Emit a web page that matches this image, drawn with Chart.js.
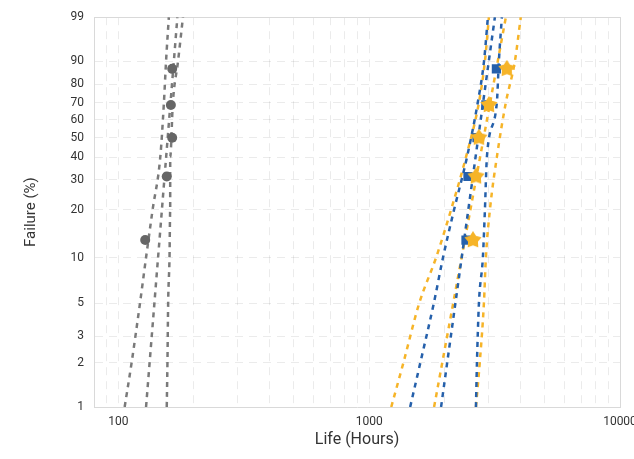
<!DOCTYPE html>
<html><head><meta charset="utf-8">
<script src="https://cdn.jsdelivr.net/npm/chart.js@4.4.1/dist/chart.umd.min.js"></script>
<style>html,body{margin:0;padding:0;background:#fff}#wrap{width:634px;height:459px;position:relative}</style>
</head><body><div id="wrap"><canvas id="c"></canvas></div>
<script>
// ---- data ----
const yTickPct = [1, 2, 3, 5, 10, 20, 30, 40, 50, 60, 70, 80, 90, 99];
const xTickLabels = [100, 1000, 10000];
const xGridValues = [80, 90, 100, 200, 300, 400, 500, 600, 700, 800, 900, 1000, 2000, 3000, 4000, 5000, 6000, 7000, 8000, 9000, 10000];

const rankPct = [12.94, 31.38, 50, 68.62, 87.06];
const grayLife = [128, 156, 164, 162, 164];
const blueLife = [2432, 2477, 2690, 2920, 3215];
const orangeLife = [2593, 2665, 2739, 3002, 3539];

const fitPct = [1, 99];
const grayFit = [129, 172];
const blueFit = [1935, 3171];
const orangeFit = [1815, 3507];

const bandPct = [1, 2, 5, 10, 20, 40, 70, 90, 99];
const grayLower = [106, 113, 122, 129, 137, 147, 152, 155, 159];
const grayUpper = [156, 157, 158, 160, 161, 161, 165, 173, 181];
const blueLower = [1457, 1600, 1810, 1970, 2180, 2455, 2710, 2870, 2974];
const blueUpper = [2665, 2690, 2739, 2840, 2894, 2947, 3229, 3289, 3381];
const orangeLower = [1225, 1370, 1583, 1849, 2121, 2432, 2739, 2894, 3002];
const orangeUpper = [2665, 2760, 2867, 2920, 3030, 3229, 3507, 3810, 4022];

// ---- helpers ----
const weib = p => Math.log(-Math.log(1 - p / 100));
const pts = (xs, ps) => xs.map((x, i) => ({x: x, y: weib(ps[i])}));

const GRAY = '#7a7a7a', GRAYPT = '#666666', BLUE = '#2560ab', ORANGE = '#f6b428';

function makeStar(size, color) {
  const c = document.createElement('canvas');
  c.width = size; c.height = size;
  const g = c.getContext('2d');
  g.fillStyle = color; g.beginPath();
  const cx = size / 2, cy = size / 2, R = size / 2, r = R * 0.58;
  for (let i = 0; i < 10; i++) {
    const a = -Math.PI / 2 + i * Math.PI / 5, rad = i % 2 ? r : R;
    g.lineTo(cx + rad * Math.cos(a), cy + rad * Math.sin(a));
  }
  g.closePath(); g.fill();
  return c;
}
const starImg = makeStar(18, ORANGE);

function lineDs(data, color, order) {
  return {data: data, showLine: true, borderColor: color, borderWidth: 2.5,
    borderDash: [5, 5], pointRadius: 0, fill: false, order: order,
    cubicInterpolationMode: 'monotone'};
}
function straightDs(data, color, order) {
  return {data: data, showLine: true, borderColor: color, borderWidth: 2.5,
    borderDash: [5, 5], pointRadius: 0, fill: false, order: order, tension: 0};
}

const datasets = [
  {data: pts(orangeLife, rankPct), pointStyle: starImg, pointRadius: 9, backgroundColor: ORANGE, borderColor: ORANGE, showLine: false, order: 0},
  {data: pts(blueLife, rankPct), pointStyle: 'rect', pointRadius: 6.5, backgroundColor: BLUE, borderColor: BLUE, borderWidth: 0, showLine: false, order: 1},
  {data: pts(grayLife, rankPct), pointStyle: 'circle', pointRadius: 5, backgroundColor: GRAYPT, borderColor: GRAYPT, borderWidth: 0, showLine: false, order: 2},
  straightDs(pts(blueFit, fitPct), BLUE, 3),
  lineDs(pts(blueLower, bandPct), BLUE, 3),
  lineDs(pts(blueUpper, bandPct), BLUE, 3),
  straightDs(pts(orangeFit, fitPct), ORANGE, 4),
  lineDs(pts(orangeLower, bandPct), ORANGE, 4),
  lineDs(pts(orangeUpper, bandPct), ORANGE, 4),
  straightDs(pts(grayFit, fitPct), GRAY, 5),
  lineDs(pts(grayLower, bandPct), GRAY, 5),
  lineDs(pts(grayUpper, bandPct), GRAY, 5)
];

const gridCol = 'rgba(0,0,0,0.08)';
const edgeCol = '#d9d9d9';
const tickFont = {family: 'Roboto', size: 12};

new Chart(document.getElementById('c'), {
  type: 'scatter',
  data: {datasets: datasets},
  options: {
    responsive: true, maintainAspectRatio: false, animation: false,
    layout: {padding: {left: 18, right: 0, top: 15, bottom: 0}},
    plugins: {legend: {display: false}, tooltip: {enabled: false}},
    scales: {
      x: {
        type: 'logarithmic', min: 80, max: 10000, position: 'bottom',
        afterBuildTicks: ax => { ax.ticks = xGridValues.map(v => ({value: v})); },
        afterFit: ax => { ax.height = 52; ax.paddingRight = 14; ax.paddingLeft = 0; },
        ticks: {autoSkip: false, maxRotation: 0, padding: 8, color: '#333', font: tickFont,
          callback: (v) => xTickLabels.includes(v) ? String(v) : ''},
        grid: {color: gridCol, lineWidth: 1, drawTicks: false},
        border: {display: true, color: edgeCol, dash: [8, 6]},
        title: {display: true, text: 'Life (Hours)', color: '#333', font: {family: 'Roboto', size: 16}, padding: {top: 4, bottom: 9.4}}
      },
      y: {
        type: 'linear', min: weib(1), max: weib(99), position: 'left',
        afterBuildTicks: ax => { ax.ticks = yTickPct.map(p => ({value: weib(p)})); },
        afterFit: ax => { ax.width = 76; },
        ticks: {autoSkip: false, padding: 10, color: '#333', font: tickFont,
          callback: (v, i) => String(yTickPct[i])},
        grid: {color: gridCol, lineWidth: 1, drawTicks: false},
        border: {display: true, color: edgeCol, dash: [8, 6]},
        title: {display: true, text: 'Failure (%)', color: '#333', font: {family: 'Roboto', size: 15}, padding: {top: 4, bottom: 4}}
      },
      xTop: {
        type: 'logarithmic', min: 80, max: 10000, position: 'top', display: true,
        afterFit: ax => { ax.height = 0; ax.paddingRight = 14; ax.paddingLeft = 0; },
        ticks: {display: false}, grid: {display: false, drawTicks: false},
        border: {display: true, color: edgeCol}
      },
      yRight: {
        type: 'linear', min: weib(1), max: weib(99), position: 'right', display: true,
        afterFit: ax => { ax.width = 0; },
        ticks: {display: false}, grid: {display: false, drawTicks: false},
        border: {display: true, color: edgeCol}
      }
    }
  }
});
</script>
</body></html>
